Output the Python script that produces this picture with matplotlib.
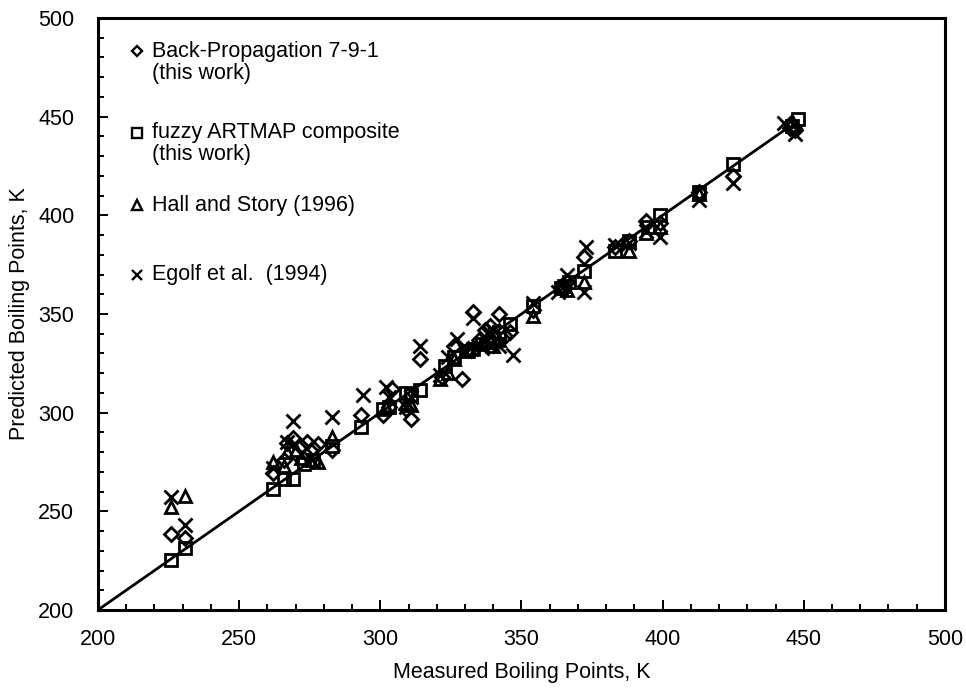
import matplotlib
matplotlib.use("Agg")
import matplotlib.pyplot as plt
from matplotlib.ticker import MultipleLocator

plt.rcParams['font.family'] = ['Liberation Sans', 'DejaVu Sans']

# Back-Propagation 7-9-1 (diamonds): measured, predicted
bp_meas = [226, 231, 262, 266, 267, 269, 272, 274, 276, 278, 283, 293, 301, 303, 304, 309,
           311, 314, 322, 326, 329, 331, 333, 335, 337, 339, 340, 342, 344, 346, 354, 365,
           366, 372, 383, 388, 394, 399, 413, 425, 445, 447]
bp_pred = [238.5, 236.5, 269.5, 276, 284.5, 287, 283, 285, 282, 284, 281, 299, 299, 303, 312, 302,
           297, 327, 318, 334, 317, 332, 351, 337, 342, 344, 336, 350, 339, 341, 352, 363,
           366, 379, 384, 387, 397, 396, 412, 420, 444, 443]

# fuzzy ARTMAP composite (squares)
fa_meas = [226, 231, 262, 266, 269, 273, 276, 283, 293, 301, 303, 309, 311, 314, 323, 326,
           331, 333, 336, 338, 340, 342, 346, 354, 364, 365, 367, 372, 383, 388, 395, 399,
           413, 425, 446, 448]
fa_pred = [225.5, 231.5, 261.5, 266.5, 266.5, 274, 276, 283, 292.5, 302, 303, 310, 309, 311.5, 323.5, 328,
           331, 332, 335, 336, 338, 341, 345, 354, 363, 364, 366, 372, 382, 387, 394, 400,
           412, 426, 445, 449]

# Hall and Story (1996) (triangles)
hs_meas = [226, 231, 262, 266, 267, 270, 272, 275, 278, 283, 302, 309, 311, 321, 324, 326,
           331, 336, 338, 340, 342, 354, 364, 366, 372, 388, 394, 399, 413, 446]
hs_pred = [252, 258, 275, 273, 280, 281, 277, 276, 275, 287.5, 303, 305, 304, 317, 320, 327,
           332, 336, 339, 334, 337, 349, 364, 362, 366, 382, 391, 394, 411, 448]

# Egolf et al. (1994) (crosses)
eg_meas = [226, 231, 262, 267, 269, 272, 275, 283, 294, 302, 303, 309, 311, 314, 321, 324,
           327, 330, 333, 336, 338, 340, 342, 347, 354, 363, 366, 372, 373, 383, 388, 394,
           399, 413, 425, 443, 447]
eg_pred = [257, 243, 272, 285, 296, 279, 277, 298, 309, 313, 308, 303, 308, 334, 319, 328,
           337.5, 331, 348, 333, 340, 342, 334, 329, 355.5, 361, 369.5, 361, 384, 385, 386, 392,
           389, 408, 416.5, 447, 441]

# parity line
line_x = [200, 445]

legend_labels = [
    ["Back-Propagation 7-9-1", "(this work)"],
    ["fuzzy ARTMAP composite", "(this work)"],
    ["Hall and Story (1996)"],
    ["Egolf et al.  (1994)"],
]

fig = plt.figure(figsize=(9.66, 6.88), dpi=100)
ax = fig.add_axes([0.1014, 0.1134, 0.8768, 0.8605])

ax.plot(line_x, line_x, color='black', lw=2, zorder=1)

mk = dict(linestyle='none', markerfacecolor='none', markeredgecolor='black', zorder=3)
ax.plot(bp_meas, bp_pred, marker='D', markersize=7.5, markeredgewidth=2, **mk)
ax.plot(fa_meas, fa_pred, marker='s', markersize=8.5, markeredgewidth=2, **mk)
ax.plot(hs_meas, hs_pred, marker='^', markersize=8.5, markeredgewidth=2, **mk)
ax.plot(eg_meas, eg_pred, marker='x', markersize=9.5, markeredgewidth=2, **mk)

# legend drawn as text block (axes fractions)
leg_markers = ['D', 's', '^', 'x']
leg_sizes = [5.5, 6.5, 6.5, 7.5]
leg_y = [0.944, 0.806, 0.684, 0.566]
for m, s, y, lines in zip(leg_markers, leg_sizes, leg_y, legend_labels):
    ax.plot([0.046], [y], marker=m, markersize=s, markeredgewidth=1.7,
            transform=ax.transAxes, clip_on=False, **mk)
    for i, txt in enumerate(lines):
        ax.text(0.064, y - i * 0.037, txt, transform=ax.transAxes,
                fontsize=15.5, va='center', ha='left')

ax.set_xlim(200, 500)
ax.set_ylim(200, 500)
ax.xaxis.set_major_locator(MultipleLocator(50))
ax.xaxis.set_minor_locator(MultipleLocator(10))
ax.yaxis.set_major_locator(MultipleLocator(50))
ax.yaxis.set_minor_locator(MultipleLocator(10))
ax.tick_params(which='both', direction='in', top=False, right=False,
               width=1.4, labelsize=15.5)
ax.tick_params(which='major', length=7)
ax.tick_params(which='minor', length=4)
ax.tick_params(axis='x', which='major', pad=14)
ax.tick_params(axis='y', which='major', pad=17)
for sp in ax.spines.values():
    sp.set_linewidth(2.2)

ax.set_xlabel('Measured Boiling Points, K', fontsize=15.5, labelpad=8)
ax.set_ylabel('Predicted Boiling Points, K', fontsize=15.5, labelpad=6)

fig.savefig('out.png', dpi=100)
